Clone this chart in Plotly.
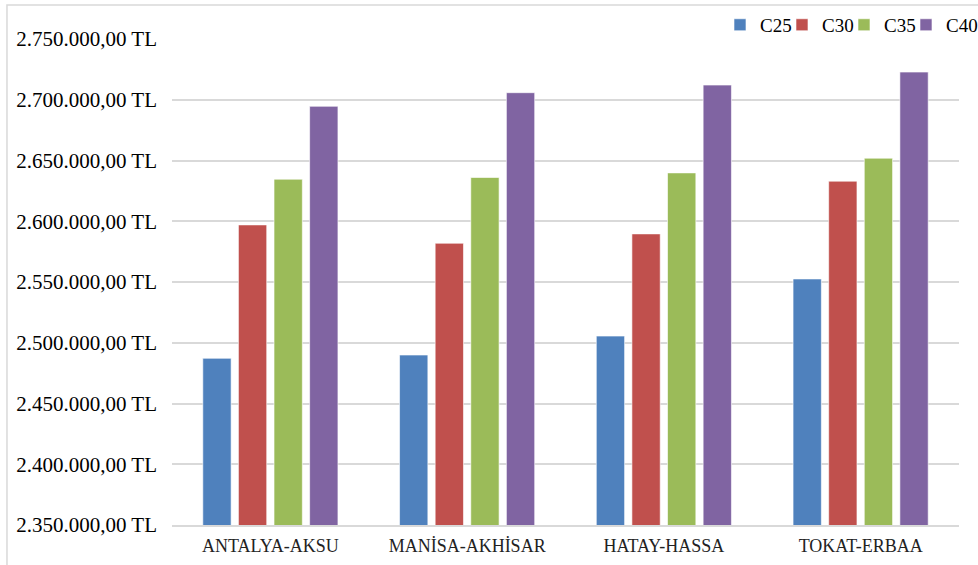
import plotly.graph_objects as go

categories = ["ANTALYA-AKSU", "MANİSA-AKHİSAR", "HATAY-HASSA", "TOKAT-ERBAA"]
series_names = ["C25", "C30", "C35", "C40"]
c25 = [2487200, 2489900, 2505500, 2552500]
c30 = [2597000, 2581900, 2589600, 2633000]
c35 = [2634600, 2636000, 2639800, 2651900]
c40 = [2694600, 2705800, 2712100, 2722800]
colors = ["#4F81BD", "#C0504D", "#9BBB59", "#8064A2"]

tick_vals = [2350000, 2400000, 2450000, 2500000, 2550000, 2600000, 2650000, 2700000, 2750000]
tick_text = ["2.350.000,00 TL", "2.400.000,00 TL", "2.450.000,00 TL", "2.500.000,00 TL",
             "2.550.000,00 TL", "2.600.000,00 TL", "2.650.000,00 TL", "2.700.000,00 TL",
             "2.750.000,00 TL"]

FONT = "Liberation Serif"

fig = go.Figure()
for name, vals, col in zip(series_names, [c25, c30, c35, c40], colors):
    fig.add_trace(go.Bar(
        x=categories, y=vals, name=name,
        marker=dict(color=col, line=dict(color="rgba(255,255,255,0.6)", width=1)),
    ))

# invisible spacer entry so the last legend label is not clipped
fig.add_trace(go.Scatter(x=[None], y=[None], mode="markers", name=" ",
                         marker=dict(opacity=0), hoverinfo="skip", showlegend=True))

fig.update_layout(
    width=978, height=565,
    margin=dict(l=172, r=19, t=39, b=40, autoexpand=False),
    paper_bgcolor="white", plot_bgcolor="white",
    barmode="group", bargap=0.276, bargroupgap=0.205,
    font=dict(family=FONT, color="#000000"),
    showlegend=True,
    legend=dict(orientation="h", x=0.6963, xanchor="left", y=1.029, yanchor="middle",
                font=dict(family=FONT, size=19, color="#000000"),
                itemwidth=30, entrywidth=17, entrywidthmode="pixels",
                tracegroupgap=0, bgcolor="rgba(0,0,0,0)", itemclick=False,
                itemdoubleclick=False),
    xaxis=dict(showgrid=False, showline=True, linecolor="#D9D9D9", linewidth=1.5,
               ticks="", ticklabelstandoff=4,
               tickfont=dict(family=FONT, size=18, color="#222222")),
    yaxis=dict(range=[2350000, 2750000], tickvals=tick_vals, ticktext=tick_text,
               showgrid=True, gridcolor="#D9D9D9", gridwidth=1.5, zeroline=False,
               showline=False, ticks="", ticklabelstandoff=14,
               tickfont=dict(family=FONT, size=21, color="#000000")),
    shapes=[dict(type="rect", xref="paper", yref="paper",
                 x0=-0.2097, x1=1.2, y0=-0.2, y1=1.07,
                 line=dict(color="#D9D9D9", width=1.5), fillcolor="rgba(0,0,0,0)",
                 layer="below")],
)

fig.write_html("out.html")
